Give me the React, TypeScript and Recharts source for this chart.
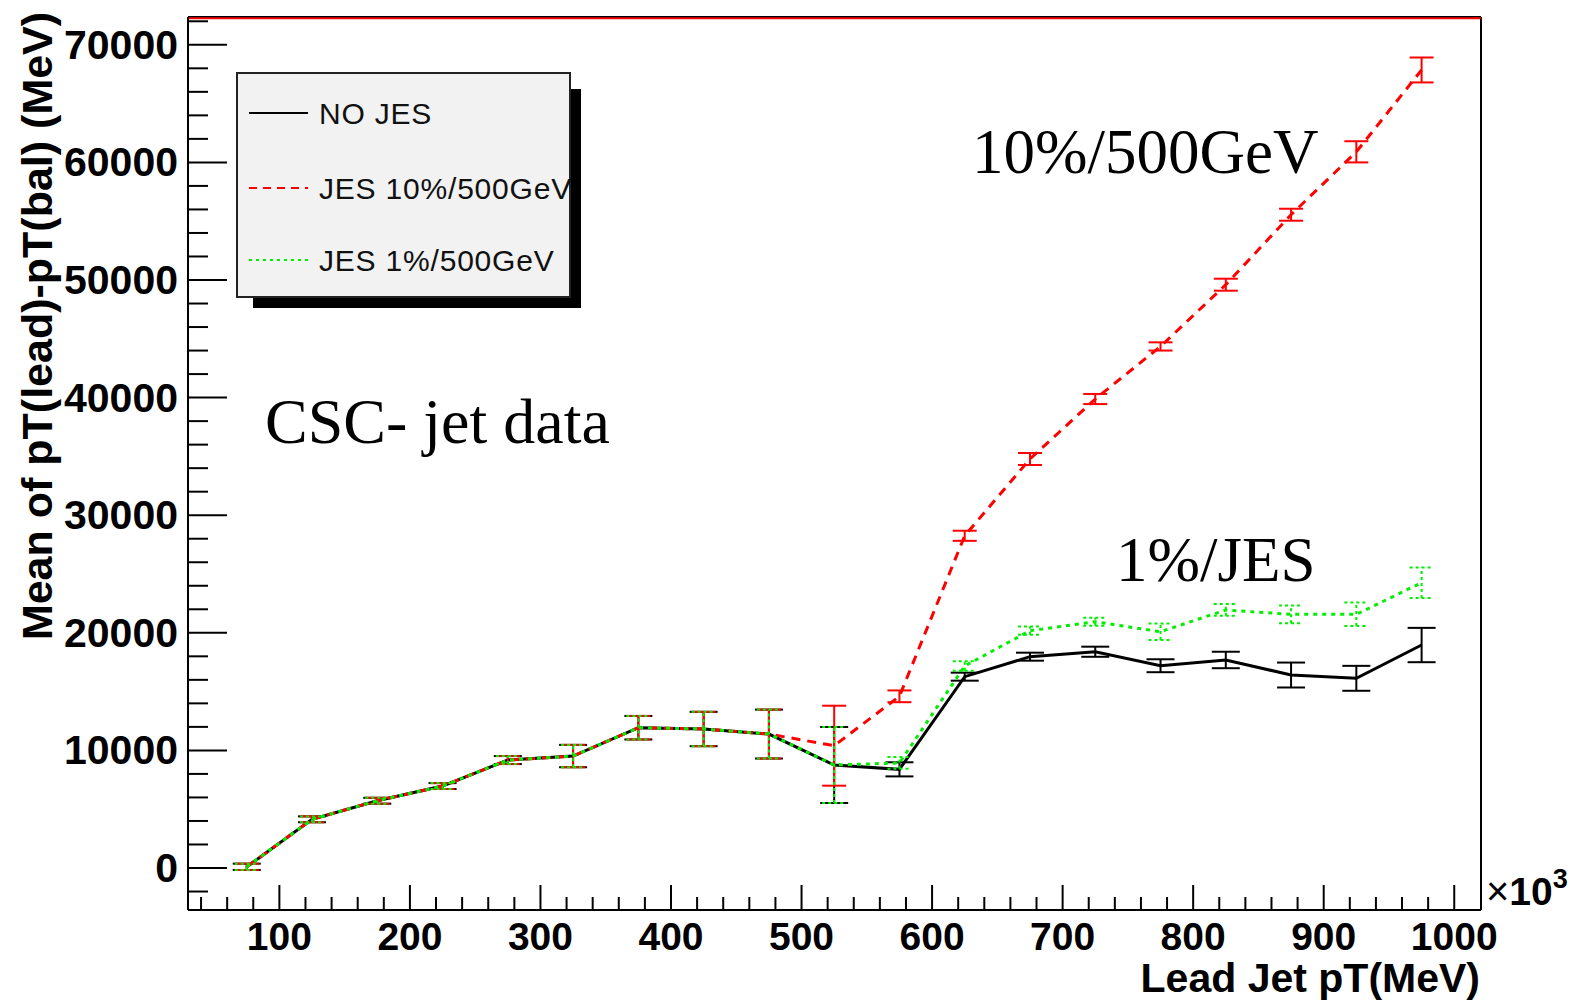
import React from 'react';
import {
  LineChart,
  Line,
  XAxis,
  YAxis,
  ErrorBar,
  ReferenceLine,
} from 'recharts';

// lead jet pT bin centres (x 10^3 MeV)
const ptLead = [75, 125, 175, 225, 275, 325, 375, 425, 475, 525, 575, 625, 675, 725, 775, 825, 875, 925, 975];

const noJes = [100, 4140, 5720, 6970, 9180, 9520, 11930, 11820, 11390, 8760, 8390, 16270, 17970, 18390, 17200, 17690, 16410, 16130, 18960];
const noJesErr = [270, 250, 250, 250, 340, 950, 1000, 1460, 2080, 3230, 600, 340, 340, 430, 550, 700, 1060, 1060, 1460];

const jes10 = [100, 4140, 5720, 6970, 9180, 9520, 11930, 11820, 11390, 10400, 14600, 28250, 34780, 39880, 44350, 49600, 55550, 60900, 67860];
const jes10Err = [270, 250, 250, 250, 340, 950, 1000, 1460, 2080, 3400, 500, 430, 510, 430, 350, 510, 510, 900, 1060];

const jes1 = [100, 4140, 5720, 6970, 9180, 9520, 11930, 11820, 11390, 8760, 8930, 17180, 20180, 20940, 20090, 21940, 21570, 21570, 24260];
const jes1Err = [270, 250, 250, 250, 340, 950, 1000, 1460, 2080, 3230, 500, 400, 350, 350, 700, 500, 750, 1000, 1300];

const xTicks = Array.from({ length: 49 }, (_, i) => 40 + i * 20);
const yTicks = Array.from({ length: 38 }, (_, i) => -2000 + i * 2000);

const X_DOMAIN = [30, 1020.5];
const Y_DOMAIN = [-3571, 72364];

const data = ptLead.map((pt, i) => ({
  pt,
  noJes: noJes[i],
  noJesErr: noJesErr[i],
  jes10: jes10[i],
  jes10Err: jes10Err[i],
  jes1: jes1[i],
  jes1Err: jes1Err[i],
}));

const SANS = '"Liberation Sans", Arial, Helvetica, sans-serif';
const SERIF = '"Liberation Serif", "Times New Roman", serif';

const YTick = (props: any) => {
  const { x, y, payload } = props;
  const major = payload.value % 10000 === 0;
  return (
    <g>
      <line x1={x} x2={x + (major ? 39 : 20)} y1={y} y2={y} stroke="#000" strokeWidth={2} />
      {major && (
        <text
          x={x - 10}
          y={y}
          textAnchor="end"
          dominantBaseline="central"
          fontFamily={SANS}
          fontWeight="bold"
          fontSize={41}
          fill="#000"
        >
          {payload.value}
        </text>
      )}
    </g>
  );
};

const XTick = (props: any) => {
  const { x, y, payload } = props;
  const major = payload.value % 100 === 0;
  return (
    <g>
      <line x1={x} x2={x} y1={y} y2={y - (major ? 25 : 13)} stroke="#000" strokeWidth={2} />
      {major && (
        <text
          x={x}
          y={y + 40}
          textAnchor="middle"
          fontFamily={SANS}
          fontWeight="bold"
          fontSize={39}
          fill="#000"
        >
          {payload.value}
        </text>
      )}
    </g>
  );
};

const Overlay = () => (
  <svg
    width={1578}
    height={1002}
    style={{ position: 'absolute', left: 0, top: 0, pointerEvents: 'none' }}
  >
    {/* legend */}
    <rect x={253} y={89} width={328} height={219} fill="#000" />
    <rect x={237} y={73} width={333} height={224} fill="#f2f2f2" stroke="#222" strokeWidth={2} />
    <line x1={249} x2={308} y1={113} y2={113} stroke="#000" strokeWidth={2} />
    <line x1={249} x2={308} y1={188} y2={188} stroke="#ff0000" strokeWidth={2} strokeDasharray="8 6" />
    <line x1={249} x2={308} y1={260} y2={260} stroke="#00ee00" strokeWidth={2} strokeDasharray="3 4" />
    <g fontFamily={SANS} fontSize={30} fill="#111" letterSpacing={0.8}>
      <text x={319} y={124}>NO JES</text>
      <text x={319} y={199}>JES 10%/500GeV</text>
      <text x={319} y={271}>JES 1%/500GeV</text>
    </g>

    {/* annotations */}
    <g fontFamily={SERIF} fill="#000">
      <text x={972} y={173} fontSize={63}>10%/500GeV</text>
      <text x={265} y={443} fontSize={64}>CSC- jet data</text>
      <text x={1116} y={581} fontSize={63}>1%/JES</text>
    </g>

    {/* axis titles */}
    <text
      x={1480}
      y={992}
      textAnchor="end"
      fontFamily={SANS}
      fontWeight="bold"
      fontSize={41}
      fill="#000"
    >
      Lead Jet pT(MeV)
    </text>
    <text
      transform="translate(52,326) rotate(-90)"
      textAnchor="middle"
      fontFamily={SANS}
      fontWeight="bold"
      fontSize={43}
      fill="#000"
    >
      Mean of pT(lead)-pT(bal) (MeV)
    </text>
    <text x={1486} y={905} fontFamily={SANS} fill="#000">
      <tspan fontSize={40}>×</tspan>
      <tspan fontSize={39} fontWeight="bold">10</tspan>
      <tspan fontSize={27} fontWeight="bold" dy={-17}>3</tspan>
    </text>
  </svg>
);

export default function App() {
  return (
    <div style={{ position: 'absolute', left: 0, top: 0, width: 1578, height: 1002, background: '#fff' }}>
      <LineChart
        width={1578}
        height={1002}
        data={data}
        margin={{ top: 17, right: 97, left: 0, bottom: 32 }}
      >
        <XAxis
          dataKey="pt"
          type="number"
          domain={X_DOMAIN}
          ticks={xTicks}
          allowDataOverflow
          interval={0}
          height={60}
          tickSize={0}
          tickMargin={0}
          tickLine={false}
          axisLine={{ stroke: '#000', strokeWidth: 2 }}
          tick={(p: any) => <XTick {...p} />}
        />
        <YAxis
          type="number"
          domain={Y_DOMAIN}
          ticks={yTicks}
          allowDataOverflow
          interval={0}
          width={188}
          tickSize={0}
          tickMargin={0}
          tickLine={false}
          axisLine={{ stroke: '#000', strokeWidth: 2 }}
          tick={(p: any) => <YTick {...p} />}
        />
        <ReferenceLine x={X_DOMAIN[1]} stroke="#000" strokeWidth={2} ifOverflow="visible" />
        <ReferenceLine y={Y_DOMAIN[1]} stroke="#000" strokeWidth={2} ifOverflow="visible" />
        <ReferenceLine y={72250} stroke="#ff0000" strokeWidth={2} ifOverflow="visible" />

        <Line
          dataKey="noJes"
          stroke="#000"
          strokeWidth={3}
          dot={false}
          isAnimationActive={false}
        >
          <ErrorBar dataKey="noJesErr" direction="y" width={14} stroke="#000" strokeWidth={2} />
        </Line>
        <Line
          dataKey="jes10"
          stroke="#ff0000"
          strokeWidth={3}
          strokeDasharray="9 7"
          dot={false}
          isAnimationActive={false}
        >
          <ErrorBar dataKey="jes10Err" direction="y" width={12} stroke="#ff0000" strokeWidth={2} />
        </Line>
        <Line
          dataKey="jes1"
          stroke="#00ee00"
          strokeWidth={3}
          strokeDasharray="4 5"
          dot={false}
          isAnimationActive={false}
        >
          <ErrorBar dataKey="jes1Err" direction="y" width={12} stroke="#00ee00" strokeWidth={2} strokeDasharray="3 3" />
        </Line>
      </LineChart>
      <Overlay />
    </div>
  );
}
